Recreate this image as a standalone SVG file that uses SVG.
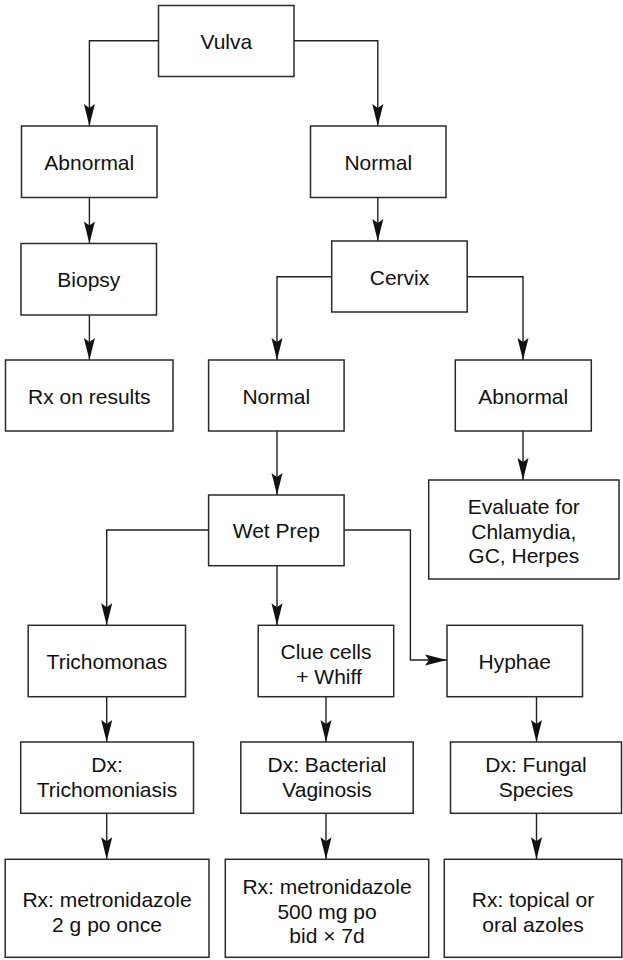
<svg xmlns="http://www.w3.org/2000/svg" width="623" height="960" viewBox="0 0 623 960">
<style>
  .box { fill: #ffffff; stroke: #2a2a2a; stroke-width: 1.5; }
  .t { font-family: "Liberation Sans", Arial, Helvetica, sans-serif; font-size: 21px; fill: #111111; text-anchor: middle; }
  .c { fill: none; stroke: #222222; stroke-width: 1.4; marker-end: url(#arr); }
</style>
<defs>
  <marker id="arr" markerUnits="userSpaceOnUse" viewBox="-23 -7 24 14" refX="0" refY="0" markerWidth="24" markerHeight="14" orient="auto">
    <path d="M0,0 L-22,-5.5 L-18,0 L-22,5.5 Z" fill="#111111"/>
  </marker>
</defs>
<rect width="623" height="960" fill="#ffffff"/>
<g id="connectors">
  <path class="c" d="M158.5,40.7 H89.4 V126"/>
  <path class="c" d="M294,40.7 H377.8 V126"/>
  <path class="c" d="M89.4,197.5 V243.5"/>
  <path class="c" d="M89.4,315 V360"/>
  <path class="c" d="M377.8,197.5 V241"/>
  <path class="c" d="M331.7,276.7 H277 V360"/>
  <path class="c" d="M467.2,276.7 H523 V360"/>
  <path class="c" d="M277,431 V495"/>
  <path class="c" d="M523,431 V480"/>
  <path class="c" d="M208.6,530 H106.7 V625.3"/>
  <path class="c" d="M277,565.7 V625.3"/>
  <path class="c" d="M344.1,530 H410.4 V660 H447"/>
  <path class="c" d="M106.7,696.7 V742"/>
  <path class="c" d="M326,696.7 V742"/>
  <path class="c" d="M536.5,696.7 V742"/>
  <path class="c" d="M106.7,813.3 V859.3"/>
  <path class="c" d="M326,813.3 V859.3"/>
  <path class="c" d="M536.5,813.3 V859.3"/>
</g>
<g id="vulva"><rect class="box" x="158.5" y="5.5" width="135.5" height="71"/><text class="t" x="226.3" y="49">Vulva</text></g>
<g id="abnormal1"><rect class="box" x="21.5" y="126" width="135.5" height="71.5"/><text class="t" x="89.3" y="169.5">Abnormal</text></g>
<g id="normal1"><rect class="box" x="310.5" y="126" width="135.5" height="71.5"/><text class="t" x="378.3" y="169.5">Normal</text></g>
<g id="biopsy"><rect class="box" x="21" y="243.5" width="135.5" height="71.5"/><text class="t" x="88.8" y="287">Biopsy</text></g>
<g id="cervix"><rect class="box" x="331.7" y="241" width="135.5" height="71"/><text class="t" x="399.5" y="284.5">Cervix</text></g>
<g id="rx-results"><rect class="box" x="5.5" y="360" width="167.5" height="71"/><text class="t" x="89.3" y="403.5">Rx on results</text></g>
<g id="normal2"><rect class="box" x="208.6" y="360" width="135.5" height="71"/><text class="t" x="276.3" y="403.5">Normal</text></g>
<g id="abnormal2"><rect class="box" x="455.3" y="360" width="136" height="71"/><text class="t" x="523.3" y="403.5">Abnormal</text></g>
<g id="wetprep"><rect class="box" x="208.6" y="495" width="135.5" height="70.7"/><text class="t" x="276.3" y="538">Wet Prep</text></g>
<g id="evaluate"><rect class="box" x="428.7" y="480" width="190.3" height="99"/><text class="t" x="523.8" y="514">Evaluate for</text><text class="t" x="523.8" y="538.5">Chlamydia,</text><text class="t" x="523.8" y="563">GC, Herpes</text></g>
<g id="trichomonas"><rect class="box" x="28.2" y="625.3" width="157.3" height="71.4"/><text class="t" x="106.9" y="668.5">Trichomonas</text></g>
<g id="cluecells"><rect class="box" x="258.2" y="625.3" width="135.5" height="71.4"/><text class="t" x="326" y="658.5">Clue cells</text><text class="t" x="329" y="683.5">+ Whiff</text></g>
<g id="hyphae"><rect class="box" x="447" y="625.3" width="135.5" height="71.4"/><text class="t" x="514.7" y="668.5">Hyphae</text></g>
<g id="dx-tricho"><rect class="box" x="20.7" y="742" width="172.8" height="71.3"/><text class="t" x="107" y="771.5">Dx:</text><text class="t" x="107" y="796.5">Trichomoniasis</text></g>
<g id="dx-bv"><rect class="box" x="240.8" y="742" width="172.4" height="71.3"/><text class="t" x="327" y="771.5">Dx: Bacterial</text><text class="t" x="327" y="796.5">Vaginosis</text></g>
<g id="dx-fungal"><rect class="box" x="450.5" y="742" width="171" height="71.3"/><text class="t" x="536" y="771.5">Dx: Fungal</text><text class="t" x="536" y="796.5">Species</text></g>
<g id="rx-tricho"><rect class="box" x="5.2" y="859.3" width="203.8" height="98"/><text class="t" x="107" y="906.5">Rx: metronidazole</text><text class="t" x="107" y="931.5">2 g po once</text></g>
<g id="rx-bv"><rect class="box" x="225.3" y="859.3" width="203.4" height="98"/><text class="t" x="327" y="894">Rx: metronidazole</text><text class="t" x="327" y="918.5">500 mg po</text><text class="t" x="327" y="943">bid × 7d</text></g>
<g id="rx-topical"><rect class="box" x="444.3" y="859.3" width="177.5" height="98"/><text class="t" x="533" y="906.5">Rx: topical or</text><text class="t" x="533" y="931.5">oral azoles</text></g>
</svg>
